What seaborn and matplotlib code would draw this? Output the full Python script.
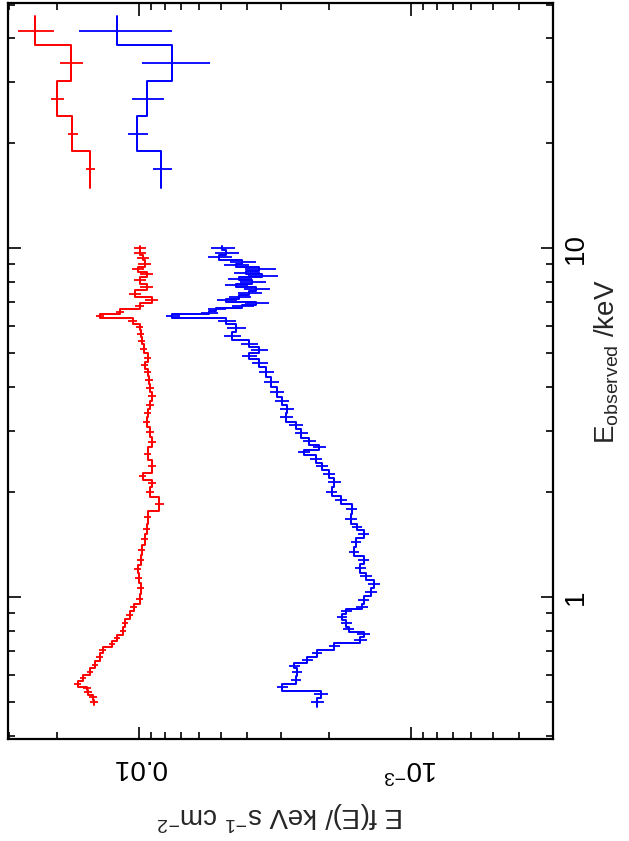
import numpy as np
import matplotlib
matplotlib.use("Agg")
import matplotlib.pyplot as plt
import seaborn as sns
from matplotlib.ticker import LogLocator, NullFormatter

# 0.5-10 keV spectrum, red
red_lo_e = [0.500, 0.517, 0.534, 0.548, 0.560, 0.590, 0.610, 0.639, 0.673, 0.710,
            0.729, 0.768, 0.794, 0.848, 0.888, 0.936, 0.980, 1.061, 1.141, 1.203,
            1.276, 1.364, 1.457, 1.587, 1.662, 1.872, 2.000, 2.135, 2.207, 2.342,
            2.603, 2.781, 2.970, 3.173, 3.389, 3.549, 3.766, 3.971, 4.186, 4.413,
            4.621, 4.839, 5.170, 5.451, 5.706, 5.937, 6.218, 6.385, 6.555, 6.866,
            7.096, 7.432, 7.732, 8.096, 8.479, 8.648, 9.060, 9.424, 9.739, 10.00]
red_lo_f = [0.01461, 0.01474, 0.01538, 0.01551, 0.01673, 0.01604, 0.01512, 0.01449, 0.01389, 0.01355,
            0.01256, 0.01204, 0.01144, 0.01125, 0.01079, 0.01043, 0.00992, 0.00983, 0.01000, 0.01009,
            0.00983, 0.00975, 0.00951, 0.00935, 0.00927, 0.00838, 0.00911, 0.00896, 0.00967, 0.00896,
            0.00927, 0.00896, 0.00911, 0.00935, 0.00927, 0.00911, 0.00896, 0.00911, 0.00919, 0.00927,
            0.00951, 0.00927, 0.00959, 0.00975, 0.00983, 0.00992, 0.01052, 0.01389, 0.01174, 0.00992,
            0.00896, 0.01034, 0.00935, 0.00992, 0.00935, 0.01009, 0.00951, 0.00967, 0.00992, 0.00992]
red_lo_err = [0.0005, 0.0005, 0.0005, 0.0005, 0.0005, 0.0004, 0.0004, 0.0004, 0.0004, 0.0004,
              0.0003, 0.0003, 0.0003, 0.0003, 0.0003, 0.0003, 0.0003, 0.0003, 0.0003, 0.0003,
              0.0003, 0.0003, 0.0003, 0.0003, 0.0003, 0.0003, 0.0003, 0.0003, 0.0003, 0.0003,
              0.0003, 0.0003, 0.0003, 0.0003, 0.0003, 0.0003, 0.0003, 0.0003, 0.0003, 0.0003,
              0.0003, 0.0003, 0.0003, 0.0003, 0.0003, 0.0003, 0.0004, 0.0005, 0.0004, 0.0004,
              0.0005, 0.0005, 0.0005, 0.0005, 0.0005, 0.0005, 0.0005, 0.0005, 0.0005, 0.0005]

# 0.5-10 keV spectrum, blue
blue_lo_e = [0.500, 0.531, 0.548, 0.578, 0.610, 0.639, 0.660, 0.691, 0.724, 0.753,
             0.789, 0.804, 0.842, 0.876, 0.918, 0.930, 0.980, 1.033, 1.097, 1.141,
             1.211, 1.276, 1.346, 1.437, 1.525, 1.587, 1.662, 1.799, 1.897, 2.000,
             2.135, 2.266, 2.358, 2.502, 2.603, 2.691, 2.781, 2.951, 3.111, 3.258,
             3.479, 3.620, 3.868, 4.131, 4.413, 4.714, 4.936, 5.102, 5.343, 5.559,
             5.937, 6.218, 6.385, 6.555, 6.686, 6.820, 6.957, 7.096, 7.238, 7.432,
             7.681, 7.834, 7.991, 8.204, 8.368, 8.479, 8.763, 8.939, 9.119, 9.424,
             9.739, 10.00]
blue_lo_f = [0.00221, 0.00214, 0.00297, 0.00264, 0.00262, 0.00268, 0.00240, 0.00221, 0.00191, 0.00153,
             0.00149, 0.00169, 0.00173, 0.00179, 0.00173, 0.00151, 0.00149, 0.00140, 0.00137, 0.00146,
             0.00153, 0.00149, 0.00162, 0.00159, 0.00149, 0.00158, 0.00166, 0.00165, 0.00180, 0.00195,
             0.00191, 0.00200, 0.00212, 0.00223, 0.00247, 0.00217, 0.00236, 0.00253, 0.00264, 0.00287,
             0.00285, 0.00297, 0.00310, 0.00326, 0.00340, 0.00360, 0.00392, 0.00360, 0.00392, 0.00452,
             0.00438, 0.00476, 0.00751, 0.00549, 0.00518, 0.00416, 0.00370, 0.00476, 0.00427, 0.00392,
             0.00370, 0.00438, 0.00382, 0.00427, 0.00351, 0.00402, 0.00360, 0.00438, 0.00416, 0.00505,
             0.00476, 0.00492]
blue_lo_err = [0.00012, 0.00012, 0.00014, 0.00012, 0.00012, 0.00012, 0.00011, 0.00010, 0.00009, 0.00008,
               0.00008, 0.00008, 0.00008, 0.00008, 0.00008, 0.00008, 0.00007, 0.00007, 0.00007, 0.00007,
               0.00007, 0.00007, 0.00007, 0.00007, 0.00007, 0.00007, 0.00008, 0.00008, 0.00009, 0.00009,
               0.00010, 0.00010, 0.00011, 0.00012, 0.00013, 0.00012, 0.00013, 0.00014, 0.00015, 0.00016,
               0.00017, 0.00018, 0.00019, 0.00020, 0.00022, 0.00024, 0.00026, 0.00026, 0.00028, 0.00032,
               0.00034, 0.00036, 0.00045, 0.00040, 0.00040, 0.00038, 0.00038, 0.00040, 0.00040, 0.00040,
               0.00040, 0.00042, 0.00042, 0.00044, 0.00044, 0.00044, 0.00046, 0.00046, 0.00046, 0.00050,
               0.00050, 0.00050]

# hard X-ray bins (shared energy edges)
hi_edges = [14.9, 19.0, 23.9, 30.1, 38.2, 46.2]
red_hi_f = [0.01512, 0.01759, 0.01997, 0.01775, 0.02404]
red_hi_lo = [0.01449, 0.01673, 0.01883, 0.01604, 0.02048]
red_hi_hi = [0.01563, 0.01820, 0.02101, 0.01947, 0.02774]
blue_hi_f = [0.00824, 0.01017, 0.00935, 0.00757, 0.01204]
blue_hi_lo = [0.00757, 0.00927, 0.00810, 0.00545, 0.00757]
blue_hi_hi = [0.00889, 0.01097, 0.01060, 0.00975, 0.01659]

RED = "#ff0000"
BLUE = "#0000ff"


def bin_edges(centres):
    c = np.asarray(centres)
    mid = np.sqrt(c[:-1] * c[1:])
    lo = np.r_[c[0] ** 2 / mid[0], mid]
    hi = np.r_[mid, c[-1] ** 2 / mid[-1]]
    return lo, hi


def draw_spectrum(ax, flux, lo, hi, flo, fhi, colour):
    flux = np.asarray(flux)
    lo = np.asarray(lo)
    hi = np.asarray(hi)
    centre = np.sqrt(lo * hi)
    # histogram-style step along the energy axis
    sx = np.repeat(flux, 2)
    sy = np.column_stack([lo, hi]).ravel()
    sns.lineplot(x=sx, y=sy, sort=False, estimator=None, color=colour,
                 lw=1.4, ax=ax, legend=False)
    ax.errorbar(flux, centre, xerr=[flux - np.asarray(flo), np.asarray(fhi) - flux],
                yerr=[centre - lo, hi - centre], fmt="none", ecolor=colour,
                elinewidth=1.3, capsize=0)


sns.set_style("white")
plt.rcParams["font.family"] = ["Liberation Sans", "DejaVu Sans"]
plt.rcParams["mathtext.fontset"] = "custom"
plt.rcParams["mathtext.rm"] = "Liberation Sans"
plt.rcParams["mathtext.it"] = "Liberation Sans"
plt.rcParams["mathtext.default"] = "regular"

fig = plt.figure(figsize=(6.29, 8.41), dpi=100)
ax = fig.add_axes([8 / 629, 1 - 739 / 841, 545 / 629, 736 / 841])

# red 0.5-10 keV
lo, hi = bin_edges(red_lo_e)
f = np.asarray(red_lo_f)
e = np.asarray(red_lo_err)
draw_spectrum(ax, f, lo, hi, f - e, f + e, RED)
# blue 0.5-10 keV
lo, hi = bin_edges(blue_lo_e)
f = np.asarray(blue_lo_f)
e = np.asarray(blue_lo_err)
draw_spectrum(ax, f, lo, hi, f - e, f + e, BLUE)
# hard band
draw_spectrum(ax, red_hi_f, hi_edges[:-1], hi_edges[1:], red_hi_lo, red_hi_hi, RED)
draw_spectrum(ax, blue_hi_f, hi_edges[:-1], hi_edges[1:], blue_hi_lo, blue_hi_hi, BLUE)

ax.set_xscale("log")
ax.set_yscale("log")
ax.set_xlim(0.0302, 3.0e-4)
ax.set_ylim(0.392, 50.5)

ax.set_xticks([0.01, 0.001], labels=["0.01", "10$^{-3}$"])
ax.xaxis.set_minor_locator(LogLocator(base=10, subs=np.arange(2, 10)))
ax.xaxis.set_minor_formatter(NullFormatter())
ax.set_yticks([1, 10], labels=["1", "10"])
ax.yaxis.set_minor_locator(LogLocator(base=10, subs=np.arange(2, 10)))
ax.yaxis.set_minor_formatter(NullFormatter())

ax.tick_params(which="both", direction="in", top=True, bottom=True,
               left=True, right=True, labelleft=False, labelright=True,
               labelbottom=True, labeltop=False, width=1.2, colors="black")
ax.tick_params(which="major", length=9)
ax.tick_params(which="minor", length=5)
ax.tick_params(axis="x", labelsize=20, pad=11, labelrotation=180)
ax.tick_params(axis="y", labelsize=20, pad=7, labelrotation=90)
for lab in ax.get_yticklabels():
    lab.set_verticalalignment("center")

for sp in ax.spines.values():
    sp.set_linewidth(1.6)
    sp.set_color("black")

ax.set_xlabel("E f(E)/ keV s$^{-1}$ cm$^{-2}$", fontsize=20, rotation=180, labelpad=12)
ax.yaxis.set_label_position("right")
ax.set_ylabel("E$_{observed}$ /keV", fontsize=20, rotation=90)
ax.yaxis.set_label_coords(1.072, 0.512)

fig.savefig("out.png", dpi=100)
